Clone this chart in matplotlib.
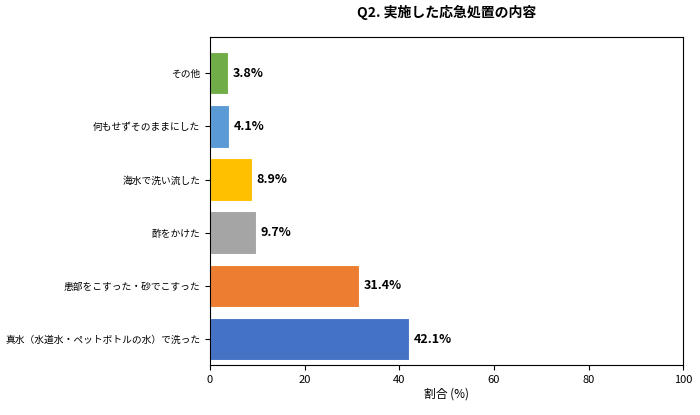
import matplotlib
matplotlib.use("Agg")
import matplotlib.pyplot as plt

plt.rcParams['font.family'] = ['Noto Sans CJK JP', 'DejaVu Sans']

# bottom to top
categories = ["真水（水道水・ペットボトルの水）で洗った", "患部をこすった・砂でこすった",
              "酢をかけた", "海水で洗い流した", "何もせずそのままにした", "その他"]
values = [42.1, 31.4, 9.7, 8.9, 4.1, 3.8]
colors = ["#4472C4", "#ED7D31", "#A5A5A5", "#FFC000", "#5B9BD5", "#70AD47"]

fig = plt.figure(figsize=(7.0, 4.15), dpi=100)
ax = fig.add_axes([0.30, 0.12, 0.676, 0.791])

bars = ax.barh(categories, values, height=0.8, color=colors, edgecolor="white", linewidth=0.8)
for b, v in zip(bars, values):
    ax.text(b.get_width() + 1, b.get_y() + b.get_height() / 2, f"{v}%",
            va="center", ha="left", fontsize=9, fontweight="bold")

ax.set_xlim(0, 100)
ax.set_ylim(-0.49, 5.68)
ax.set_xticks([0, 20, 40, 60, 80, 100])
ax.tick_params(axis="y", labelsize=7)
ax.tick_params(axis="x", labelsize=8)
ax.set_xlabel("割合 (%)", fontsize=8.5, labelpad=2)
ax.set_title("Q2. 実施した応急処置の内容", fontsize=10, fontweight="bold", pad=14)

fig.savefig("out.png", dpi=100)
